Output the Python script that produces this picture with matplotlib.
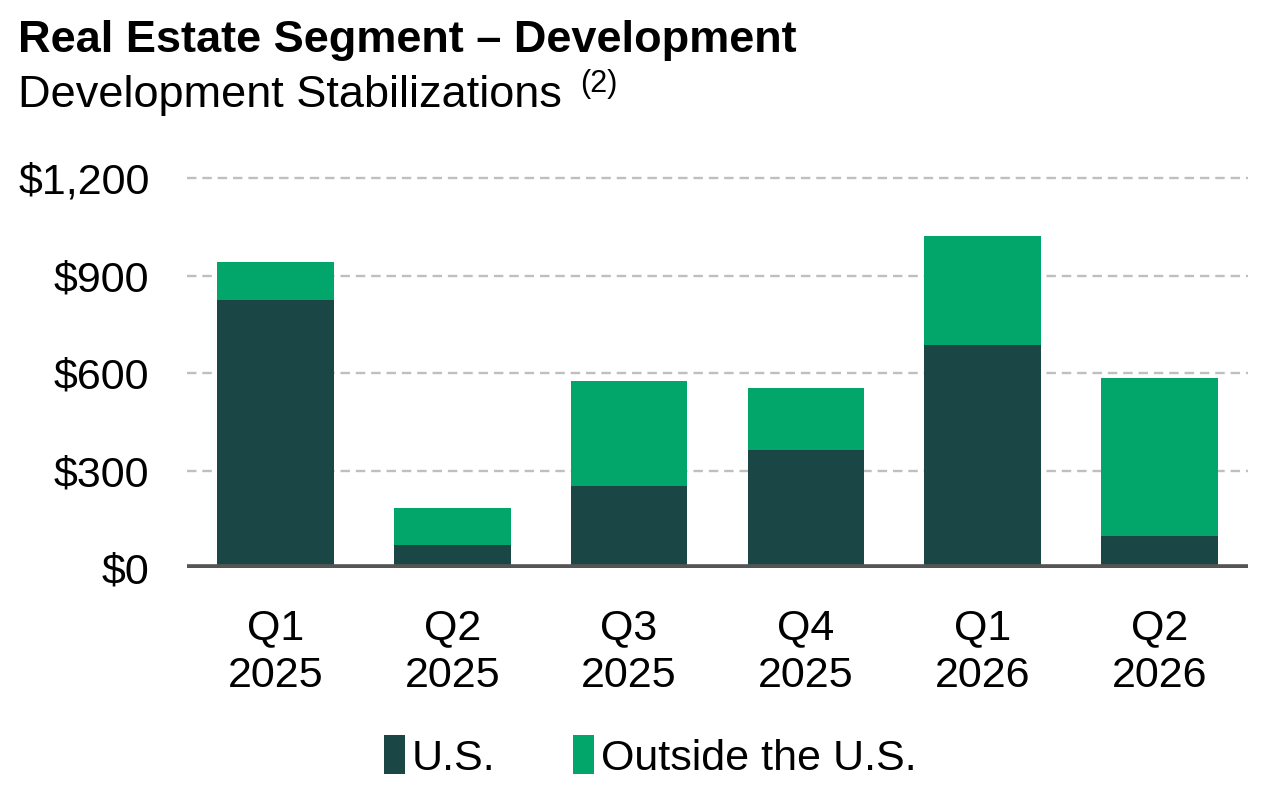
import matplotlib
matplotlib.use("Agg")
import matplotlib.pyplot as plt
import numpy as np

plt.rcParams['font.family'] = ['Liberation Sans', 'DejaVu Sans']

quarters = ["Q1\n2025", "Q2\n2025", "Q3\n2025", "Q4\n2025", "Q1\n2026", "Q2\n2026"]
us_values = [826, 70, 251, 364, 688, 100]
outside_values = [117, 116, 326, 191, 334, 486]
y_ticks = [0, 300, 600, 900, 1200]
y_tick_labels = ["$0", "$300", "$600", "$900", "$1,200"]

W, H = 1288, 785
fig = plt.figure(figsize=(W / 100, H / 100), dpi=100)
ax = fig.add_axes([187 / W, 1 - 568 / H, (1248 - 187) / W, 406 / H])

x = np.arange(len(quarters))
c_us = "#1B4646"
c_out = "#02A66A"
ax.bar(x, us_values, width=0.66, color=c_us, label="U.S.", zorder=3)
ax.bar(x, outside_values, width=0.66, bottom=us_values, color=c_out,
       label="Outside the U.S.", zorder=3)

ax.set_xlim(-0.5, 5.5)
ax.set_ylim(0, 1250)
ax.set_yticks(y_ticks)
ax.set_yticklabels(y_tick_labels)
ax.set_xticks(x)
ax.set_xticklabels(quarters, linespacing=1.25)
ax.tick_params(axis='both', length=0, labelsize=31, colors='black')
ax.tick_params(axis='y', pad=27)
ax.tick_params(axis='x', pad=29)

for s in ax.spines.values():
    s.set_visible(False)
ax.yaxis.grid(True, color='#BFBFBF', linestyle=(0, (4, 2.5)), linewidth=1.7, zorder=0)
ax.axhline(0, color='#555555', linewidth=5.5, zorder=4)

fig.text(18 / W, 1 - 52 / H, "Real Estate Segment \u2013 Development", fontsize=32.5,
         fontweight='bold', ha='left', va='baseline')
fig.text(18 / W, 1 - 107 / H, "Development Stabilizations", fontsize=32.5,
         ha='left', va='baseline')
fig.text(580 / W, 1 - 92 / H, "(2)", fontsize=22, ha='left', va='baseline')

fig.legend(loc='center', bbox_to_anchor=(650 / W, 1 - 757 / H), ncol=2, frameon=False,
           fontsize=31, handlelength=0.5, handleheight=1.0, handletextpad=0.15,
           columnspacing=1.8)

fig.savefig("out.png", dpi=100)
